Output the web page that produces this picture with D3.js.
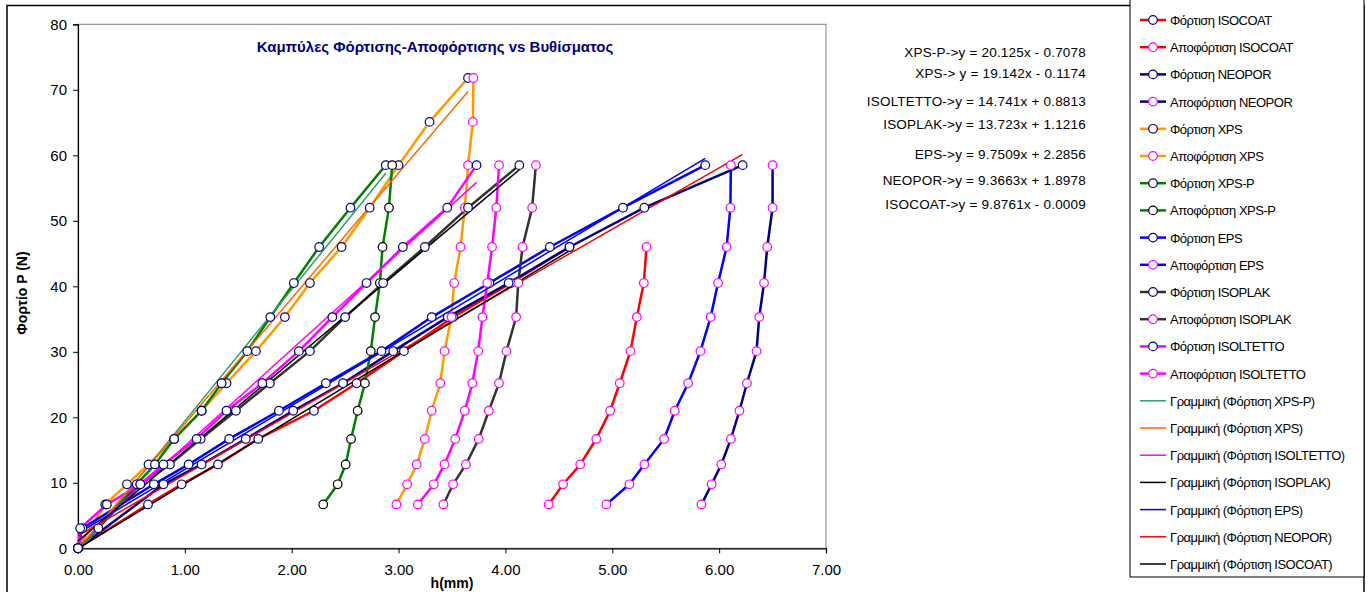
<!DOCTYPE html>
<html>
<head>
<meta charset="utf-8">
<script src="https://cdn.jsdelivr.net/npm/d3@7"></script>
<style>
  body { margin: 0; background: #fff; }
  text { font-family: "Liberation Sans", Arial, sans-serif; }
</style>
</head>
<body>
<svg id="chart" width="1369" height="592"></svg>
<script>
// loading curves: [h(mm), P(N)]
const isocoatLoad = [[0,0],[0.655,6.7],[0.97,9.77],[1.31,12.8],[1.687,16.7],[2.208,21],[2.607,25.2],[3.05,30.1],[3.51,35.3],[4.05,40.5],[4.60,46]];
const neoporLoad = [[0,0],[0.80,9.77],[1.157,12.8],[1.57,16.7],[2.014,21],[2.48,25.2],[2.95,30.1],[3.46,35.3],[4.03,40.5],[4.60,46],[5.30,52],[6.22,58.5]];
const xpsLoad = [[0,0],[0.255,6.7],[0.458,9.77],[0.66,12.8],[0.90,16.7],[1.157,21],[1.39,25.2],[1.665,30.1],[1.936,35.3],[2.17,40.5],[2.467,46],[2.73,52],[3.00,58.5],[3.29,65.1],[3.65,71.8]];
const xpspLoad = [[0,0],[0.19,3.05],[0.55,9.77],[0.72,12.8],[0.90,16.7],[1.157,21],[1.344,25.2],[1.584,30.1],[1.80,35.3],[2.02,40.5],[2.257,46],[2.55,52],[2.88,58.5]];
const epsLoad = [[0,0],[0.04,3.05],[0.71,9.77],[1.035,12.8],[1.415,16.7],[1.88,21],[2.32,25.2],[2.84,30.1],[3.31,35.3],[3.85,40.5],[4.415,46],[5.10,52],[5.87,58.5]];
const isoplakLoad = [[0,0],[0.583,9.77],[0.86,12.8],[1.148,16.7],[1.478,21],[1.796,25.2],[2.17,30.1],[2.50,35.3],[2.856,40.5],[3.246,46],[3.65,52],[4.13,58.5]];
const isoltettoLoad = [[0,0],[0.02,3.05],[0.27,6.7],[0.583,9.77],[0.80,12.8],[1.11,16.7],[1.39,21],[1.725,25.2],[2.067,30.1],[2.38,35.3],[2.70,40.5],[3.04,46],[3.455,52],[3.73,58.5]];

// unloading curves
const isocoatUnload = [[5.32,46],[5.295,40.5],[5.23,35.3],[5.17,30.1],[5.07,25.2],[4.98,21],[4.85,16.7],[4.70,12.8],[4.54,9.77],[4.405,6.7]];
const neoporUnload = [[6.50,58.5],[6.50,52],[6.45,46],[6.42,40.5],[6.375,35.3],[6.35,30.1],[6.26,25.2],[6.19,21],[6.11,16.7],[6.02,12.8],[5.93,9.77],[5.835,6.7]];
const xpsUnload = [[3.70,71.8],[3.695,65.1],[3.65,58.5],[3.62,52],[3.58,46],[3.52,40.5],[3.495,35.3],[3.43,30.1],[3.39,25.2],[3.31,21],[3.246,16.7],[3.17,12.8],[3.08,9.77],[2.98,6.7]];
const xpspUnload = [[2.94,58.5],[2.91,52],[2.85,46],[2.825,40.5],[2.78,35.3],[2.74,30.1],[2.685,25.2],[2.617,21],[2.555,16.7],[2.505,12.8],[2.43,9.77],[2.295,6.7]];
const epsUnload = [[6.11,58.5],[6.105,52],[6.07,46],[5.99,40.5],[5.92,35.3],[5.825,30.1],[5.71,25.2],[5.585,21],[5.485,16.7],[5.30,12.8],[5.16,9.77],[4.945,6.7]];
const isoplakUnload = [[4.285,58.5],[4.25,52],[4.16,46],[4.12,40.5],[4.10,35.3],[4.01,30.1],[3.94,25.2],[3.845,21],[3.75,16.7],[3.63,12.8],[3.51,9.77],[3.42,6.7]];
const isoltettoUnload = [[3.94,58.5],[3.915,52],[3.875,46],[3.83,40.5],[3.785,35.3],[3.745,30.1],[3.69,25.2],[3.62,21],[3.53,16.7],[3.43,12.8],[3.33,9.77],[3.18,6.7]];

const seriesNames = ["Φόρτιση ISOCOAT","Αποφόρτιση ISOCOAT","Φόρτιση NEOPOR","Αποφόρτιση NEOPOR","Φόρτιση  XPS","Αποφόρτιση XPS","Φόρτιση XPS-P","Αποφόρτιση XPS-P","Φόρτιση EPS","Αποφόρτιση EPS","Φόρτιση ISOPLAK","Αποφόρτιση ISOPLAK","Φόρτιση ISOLTETTO","Αποφόρτιση ISOLTETTO"];
const seriesData = [isocoatLoad, isocoatUnload, neoporLoad, neoporUnload, xpsLoad, xpsUnload, xpspLoad, xpspUnload, epsLoad, epsUnload, isoplakLoad, isoplakUnload, isoltettoLoad, isoltettoUnload];
const seriesColors = ["#ff0000","#ff0000","#000080","#000080","#ff9900","#ff9900","#008000","#008000","#0000ff","#0000ff","#333333","#333333","#ff00ff","#ff00ff"];
const markerColors = ["#000080","#ff00ff","#000080","#ff00ff","#000080","#ff00ff","#000080","#000000","#000080","#ff00ff","#000080","#ff00ff","#000080","#ff00ff"];

// linear trend lines (Excel)
const trendNames = ["Γραμμική (Φόρτιση XPS-P)","Γραμμική (Φόρτιση  XPS)","Γραμμική (Φόρτιση ISOLTETTO)","Γραμμική (Φόρτιση ISOPLAK)","Γραμμική (Φόρτιση EPS)","Γραμμική (Φόρτιση NEOPOR)","Γραμμική (Φόρτιση ISOCOAT)"];
const trendSlopes = [20.125, 19.142, 14.741, 13.723, 9.7509, 9.3663, 9.8761];
const trendIntercepts = [-0.7078, -0.1174, 0.8813, 1.1216, 2.2856, 1.8978, -0.0009];
const trendData = [xpspLoad, xpsLoad, isoltettoLoad, isoplakLoad, epsLoad, neoporLoad, isocoatLoad];
const trendColors = ["#339966","#ff6600","#ff00ff","#000000","#0000ff","#ff0000","#000000"];
const equations = ["XPS-P->y = 20.125x - 0.7078","XPS-> y = 19.142x - 0.1174","ISOLTETTO->y = 14.741x + 0.8813","ISOPLAK->y = 13.723x + 1.1216","EPS->y = 9.7509x + 2.2856","NEOPOR->y = 9.3663x + 1.8978","ISOCOAT->y = 9.8761x - 0.0009"];
const equationY = [52, 73, 101, 124, 154, 180, 204];

const xTicks = [0, 1, 2, 3, 4, 5, 6, 7];
const yTicks = [0, 10, 20, 30, 40, 50, 60, 70, 80];

const svg = d3.select("#chart");
const pLeft = 78, pRight = 826, pTop = 24.3, pBottom = 548.3;

const x = d3.scaleLinear().domain([0, 7]).range([pLeft, pRight]);
const y = d3.scaleLinear().domain([0, 80]).range([pBottom, pTop]);

// outer chart border
svg.append("rect").attr("x", 7).attr("y", 5.5).attr("width", 1357).attr("height", 620)
    .attr("fill", "#fff").attr("stroke", "#000").attr("stroke-width", 1.5);

// plot area frame
svg.append("rect").attr("x", pLeft).attr("y", pTop).attr("width", pRight - pLeft).attr("height", pBottom - pTop)
    .attr("fill", "#fff").attr("stroke", "#808080").attr("stroke-width", 1);

const xAxis = svg.append("g").attr("transform", `translate(0,${pBottom})`)
    .call(d3.axisBottom(x).tickValues(xTicks).tickFormat(d3.format(".2f")).tickSize(5).tickPadding(11));
const yAxis = svg.append("g").attr("transform", `translate(${pLeft},0)`)
    .call(d3.axisLeft(y).tickValues(yTicks).tickFormat(d3.format("d")).tickSize(5).tickPadding(6));
[xAxis, yAxis].forEach(g => {
    g.select(".domain").attr("stroke", "#000").attr("stroke-width", 1.2);
    g.selectAll(".tick line").attr("stroke", "#000");
    g.selectAll(".tick text").attr("font-size", 15).attr("fill", "#000")
        .attr("font-family", "'Liberation Sans', Arial, sans-serif");
});

svg.append("text").attr("x", 452).attr("y", 588).attr("text-anchor", "middle")
    .attr("font-size", 14).attr("font-weight", "bold").text("h(mm)");
svg.append("text").attr("transform", "translate(27,293) rotate(-90)").attr("text-anchor", "middle")
    .attr("font-size", 14).attr("font-weight", "bold").text("Φορτίο P (N)");

svg.append("text").attr("x", 435).attr("y", 52).attr("text-anchor", "middle")
    .attr("font-size", 15).attr("font-weight", "bold").attr("fill", "#000080")
    .text("Καμπύλες Φόρτισης-Αποφόρτισης vs Βυθίσματος");

// equations
svg.append("g").selectAll("text").data(equations).join("text")
    .attr("x", 1086).attr("y", (d, i) => equationY[i] + 5)
    .attr("text-anchor", "end").attr("font-size", 13.5).attr("letter-spacing", 0.2)
    .text(d => d);

const line = d3.line().x(d => x(d[0])).y(d => y(d[1]));
const plot = svg.append("g");

// data lines
plot.selectAll("path.series").data(seriesData).join("path")
    .attr("class", "series")
    .attr("d", line)
    .attr("fill", "none")
    .attr("stroke", (d, i) => seriesColors[i])
    .attr("stroke-width", 2.5);

// trend lines over the loading x-range
plot.selectAll("path.trend").data(trendData).join("path")
    .attr("class", "trend")
    .attr("d", (d, i) => {
        const xmax = d3.max(d, p => p[0]);
        return line([[0, trendIntercepts[i]], [xmax, trendSlopes[i] * xmax + trendIntercepts[i]]]);
    })
    .attr("fill", "none")
    .attr("stroke", (d, i) => trendColors[i])
    .attr("stroke-width", 1.5);

// markers
seriesData.forEach((s, i) => {
    plot.append("g").selectAll("circle").data(s).join("circle")
        .attr("cx", d => x(d[0])).attr("cy", d => y(d[1])).attr("r", 4.3)
        .attr("fill", "#fff").attr("stroke", markerColors[i]).attr("stroke-width", 1.2);
});

// legend
const lg = svg.append("g");
lg.append("rect").attr("x", 1130).attr("y", -5).attr("width", 234).attr("height", 582)
    .attr("fill", "#fff").attr("stroke", "#000").attr("stroke-width", 1);
const legendItems = seriesNames.map((n, i) => ({ name: n, color: seriesColors[i], marker: markerColors[i] }))
    .concat(trendNames.map((n, i) => ({ name: n, color: trendColors[i], marker: null })));
const item = lg.selectAll("g.item").data(legendItems).join("g")
    .attr("class", "item")
    .attr("transform", (d, i) => `translate(0,${20 + i * 27.2})`);
item.append("line").attr("x1", 1140).attr("x2", 1166)
    .attr("stroke", d => d.color).attr("stroke-width", d => d.marker ? 2.5 : 1.5);
item.filter(d => d.marker).append("circle").attr("cx", 1153).attr("r", 4.3)
    .attr("fill", "#fff").attr("stroke", d => d.marker).attr("stroke-width", 1.2);
item.append("text").attr("x", 1170).attr("y", 5).attr("font-size", 13).attr("letter-spacing", -0.5)
    .text(d => d.name);
</script>
</body>
</html>
